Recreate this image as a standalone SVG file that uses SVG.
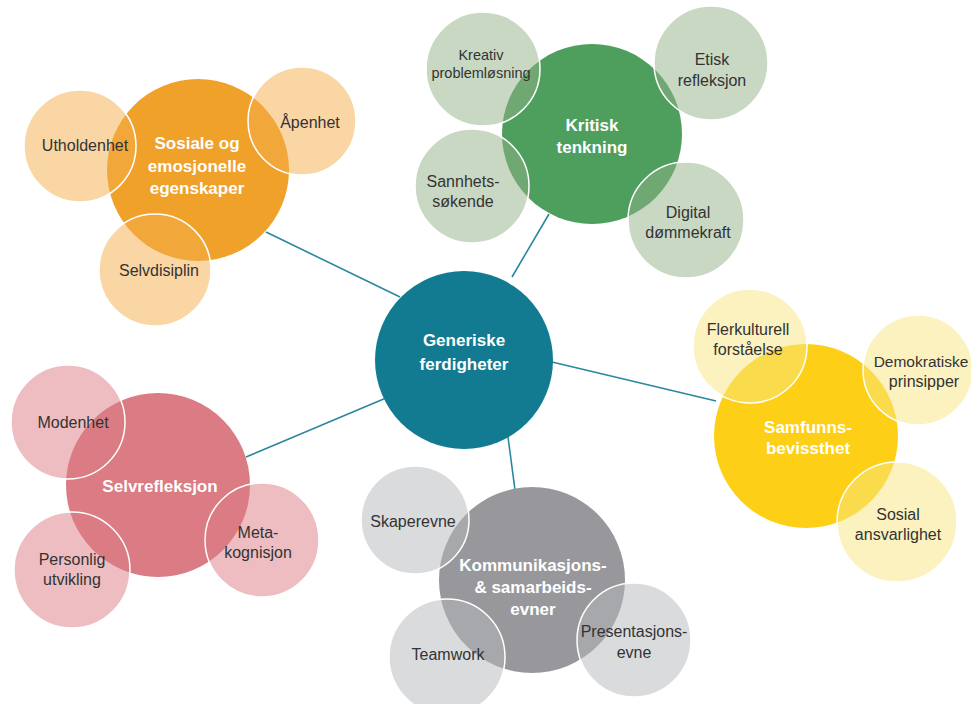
<svg xmlns="http://www.w3.org/2000/svg" width="971" height="704" viewBox="0 0 971 704">
<style>
.mt{font-family:"Liberation Sans",Arial,sans-serif;font-weight:bold;font-size:17px;fill:#fff;text-anchor:middle}
.st{font-family:"Liberation Sans",Arial,sans-serif;font-size:16px;fill:#333;text-anchor:middle}
.sm{font-size:14.5px}
.sat{stroke:#fff;stroke-width:1.5;fill-opacity:0.5}
.conn{stroke:#2a87a0;stroke-width:1.6;fill:none}
</style>
<rect width="971" height="704" fill="#fff"/>
<g id="connectors">
<line class="conn" x1="266" y1="232" x2="400" y2="297"/>
<line class="conn" x1="549" y1="214" x2="512" y2="277"/>
<line class="conn" x1="552" y1="362" x2="716" y2="401"/>
<line class="conn" x1="246" y1="457" x2="386" y2="398"/>
<line class="conn" x1="508" y1="437" x2="515" y2="490"/>
</g>
<g id="center">
<circle cx="464" cy="360" r="89" fill="#127b91"/>
<text class="mt" x="464" y="346">Generiske</text>
<text class="mt" x="464" y="370">ferdigheter</text>
</g>
<g id="sosiale">
<circle cx="198" cy="170" r="91" fill="#efa12a"/>
<text class="mt" x="197" y="149">Sosiale og</text>
<text class="mt" x="197" y="172">emosjonelle</text>
<text class="mt" x="197" y="194">egenskaper</text>
</g>
<g id="utholdenhet"><circle class="sat" cx="80" cy="146" r="56" fill="#f6ad4c"/><text class="st" x="85" y="151">Utholdenhet</text></g>
<g id="apenhet"><circle class="sat" cx="302" cy="121" r="54" fill="#f6ad4c"/><text class="st" x="310" y="128">Åpenhet</text></g>
<g id="selvdisiplin"><circle class="sat" cx="155" cy="270" r="56" fill="#f6ad4c"/><text class="st" x="159" y="276">Selvdisiplin</text></g>
<g id="kritisk">
<circle cx="592" cy="134" r="90" fill="#4e9e5e"/>
<text class="mt" x="592" y="131">Kritisk</text>
<text class="mt" x="592" y="153">tenkning</text>
</g>
<g id="kreativ"><circle class="sat" cx="483" cy="69" r="57" fill="#91b187"/><text class="st sm" x="481" y="60">Kreativ</text><text class="st sm" x="481" y="78">problemløsning</text></g>
<g id="etisk"><circle class="sat" cx="711" cy="63" r="57" fill="#91b187"/><text class="st" x="712" y="65">Etisk</text><text class="st" x="712" y="86">refleksjon</text></g>
<g id="sannhet"><circle class="sat" cx="472" cy="186" r="57" fill="#91b187"/><text class="st" x="463" y="187">Sannhets-</text><text class="st" x="463" y="207">søkende</text></g>
<g id="digital"><circle class="sat" cx="686" cy="220" r="58" fill="#91b187"/><text class="st" x="688" y="218">Digital</text><text class="st" x="688" y="238">dømmekraft</text></g>
<g id="samfunn">
<circle cx="806" cy="436" r="92" fill="#fdd017"/>
<text class="mt" x="808" y="433">Samfunns-</text>
<text class="mt" x="808" y="454">bevissthet</text>
</g>
<g id="flerkulturell"><circle class="sat" cx="750" cy="346" r="57" fill="#f7e581"/><text class="st" x="748" y="335">Flerkulturell</text><text class="st" x="748" y="355">forståelse</text></g>
<g id="demokratiske"><circle class="sat" cx="918" cy="370" r="55" fill="#f7e581"/><text class="st" x="921" y="367" style="font-size:15.5px">Demokratiske</text><text class="st" x="924" y="387">prinsipper</text></g>
<g id="sosial"><circle class="sat" cx="897" cy="522" r="60" fill="#f7e581"/><text class="st" x="898" y="520">Sosial</text><text class="st" x="898" y="540">ansvarlighet</text></g>
<g id="selvrefleksjon">
<circle cx="158" cy="485" r="92" fill="#db7b84"/>
<text class="mt" x="160" y="492">Selvrefleksjon</text>
</g>
<g id="modenhet"><circle class="sat" cx="68" cy="422" r="57" fill="#db7b84"/><text class="st" x="73" y="428">Modenhet</text></g>
<g id="personlig"><circle class="sat" cx="72" cy="570" r="58" fill="#db7b84"/><text class="st" x="72" y="565">Personlig</text><text class="st" x="72" y="585">utvikling</text></g>
<g id="meta"><circle class="sat" cx="262" cy="540" r="57" fill="#db7b84"/><text class="st" x="258" y="538">Meta-</text><text class="st" x="258" y="558">kognisjon</text></g>
<g id="kommunikasjon">
<circle cx="532" cy="580" r="93" fill="#98989c"/>
<text class="mt" x="533" y="571">Kommunikasjons-</text>
<text class="mt" x="533" y="593">&amp; samarbeids-</text>
<text class="mt" x="533" y="615">evner</text>
</g>
<g id="skaperevne"><circle class="sat" cx="415" cy="520" r="54" fill="#b6b7bb"/><text class="st" x="413" y="527">Skaperevne</text></g>
<g id="teamwork"><circle class="sat" cx="447" cy="657" r="58" fill="#b6b7bb"/><text class="st" x="448" y="660">Teamwork</text></g>
<g id="presentasjon"><circle class="sat" cx="634" cy="640" r="57" fill="#b6b7bb"/><text class="st" x="634" y="637">Presentasjons-</text><text class="st" x="634" y="658">evne</text></g>
</svg>
